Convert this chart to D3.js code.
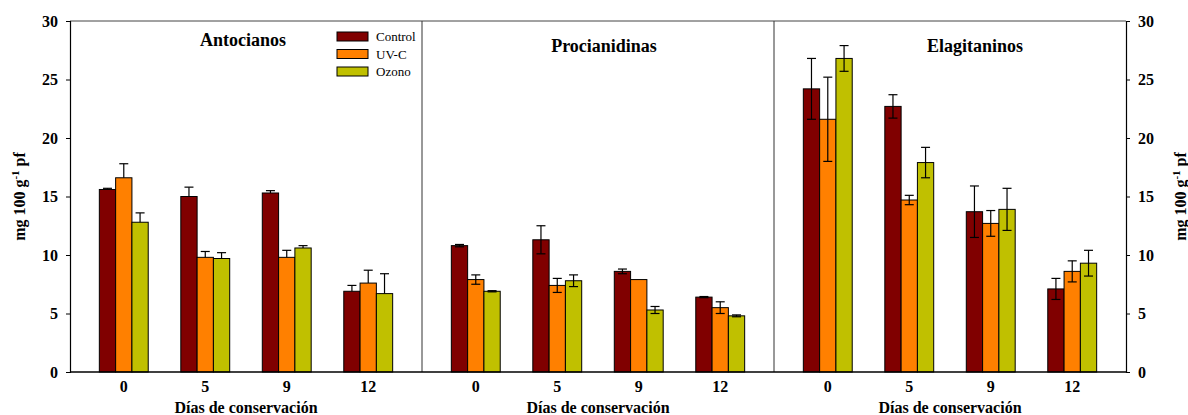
<!DOCTYPE html>
<html>
<head>
<meta charset="utf-8">
<script src="https://cdn.jsdelivr.net/npm/d3@7"></script>
<style>
  html, body { margin: 0; padding: 0; background: #fff; }
  svg { display: block; font-family: "Liberation Serif", "Times New Roman", serif; }
</style>
</head>
<body>
<svg id="chart" width="1188" height="415"></svg>
<script>
// Storage days and treatments
const days = ["0", "5", "9", "12"];
const treatments = ["Control", "UV-C", "Ozono"];
const panels = ["Antocianos", "Procianidinas", "Elagitaninos"];
const yTicks = [0, 5, 10, 15, 20, 25, 30];

// Mean values (mg 100 g-1 pf), one array per treatment, per compound
const antocianosControl = [15.6, 15.0, 15.3, 6.9];
const antocianosUVC     = [16.6, 9.8, 9.8, 7.6];
const antocianosOzono   = [12.8, 9.7, 10.6, 6.7];
const antocianosControlErr = [0.1, 0.8, 0.2, 0.5];
const antocianosUVCErr     = [1.2, 0.5, 0.6, 1.1];
const antocianosOzonoErr   = [0.8, 0.5, 0.2, 1.7];

const procianidinasControl = [10.8, 11.3, 8.6, 6.4];
const procianidinasUVC     = [7.9, 7.4, 7.9, 5.5];
const procianidinasOzono   = [6.9, 7.8, 5.3, 4.8];
const procianidinasControlErr = [0.1, 1.2, 0.2, 0.05];
const procianidinasUVCErr     = [0.4, 0.6, 0, 0.5];
const procianidinasOzonoErr   = [0.05, 0.5, 0.3, 0.08];

const elagitaninosControl = [24.2, 22.7, 13.7, 7.1];
const elagitaninosUVC     = [21.6, 14.7, 12.7, 8.6];
const elagitaninosOzono   = [26.8, 17.9, 13.9, 9.3];
const elagitaninosControlErr = [2.6, 1.0, 2.2, 0.9];
const elagitaninosUVCErr     = [3.6, 0.4, 1.1, 0.9];
const elagitaninosOzonoErr   = [1.1, 1.3, 1.8, 1.1];

const colors = ["#800000", "#FF8000", "#C0C000"];

const panelData = [
  { name: panels[0], oneSided: true,
    values: [antocianosControl, antocianosUVC, antocianosOzono],
    errors: [antocianosControlErr, antocianosUVCErr, antocianosOzonoErr] },
  { name: panels[1], oneSided: false,
    values: [procianidinasControl, procianidinasUVC, procianidinasOzono],
    errors: [procianidinasControlErr, procianidinasUVCErr, procianidinasOzonoErr] },
  { name: panels[2], oneSided: false,
    values: [elagitaninosControl, elagitaninosUVC, elagitaninosOzono],
    errors: [elagitaninosControlErr, elagitaninosUVCErr, elagitaninosOzonoErr] }
];

const svg = d3.select("#chart");
const plotLeft = 70, plotRight = 1126, plotTop = 21, plotBottom = 372;

const y = d3.scaleLinear().domain([0, 30]).range([plotBottom, plotTop]);
const panelScale = d3.scaleBand().domain(panels).range([plotLeft, plotRight]).padding(0);
const pw = panelScale.bandwidth();
const x0 = d3.scaleBand().domain(days).range([0, pw]).paddingInner(0.4).paddingOuter(0.36);
const x1 = d3.scaleBand().domain(treatments).range([0, x0.bandwidth()]).padding(0);

const titleX = [243, 604, 975];
const titleY = [46, 52, 52];
const capW = 9;

panelData.forEach((p, pi) => {
  const g = svg.append("g").attr("transform", `translate(${panelScale(p.name)},0)`);

  // bars
  treatments.forEach((t, ti) => {
    days.forEach((d, di) => {
      const v = p.values[ti][di];
      const e = p.errors[ti][di];
      const bx = x0(d) + x1(t);
      g.append("rect")
        .attr("x", bx).attr("y", y(v))
        .attr("width", x1.bandwidth()).attr("height", y(0) - y(v))
        .attr("fill", colors[ti]).attr("stroke", "#000").attr("stroke-width", 1);
      if (e > 0) {
        const cx = bx + x1.bandwidth() / 2;
        const lo = p.oneSided ? v : v - e;
        const hi = v + e;
        const eg = g.append("g").attr("stroke", "#000").attr("stroke-width", 1.2);
        eg.append("line").attr("x1", cx).attr("x2", cx).attr("y1", y(lo)).attr("y2", y(hi));
        eg.append("line").attr("x1", cx - capW / 2).attr("x2", cx + capW / 2).attr("y1", y(hi)).attr("y2", y(hi));
        if (!p.oneSided) {
          eg.append("line").attr("x1", cx - capW / 2).attr("x2", cx + capW / 2).attr("y1", y(lo)).attr("y2", y(lo));
        }
      }
    });
  });

  // x axis (day labels)
  const ax = g.append("g").attr("transform", `translate(0,${plotBottom})`)
    .call(d3.axisBottom(x0).tickSize(0).tickPadding(9));
  ax.select(".domain").remove();
  ax.selectAll("text").attr("font-size", 16).attr("font-weight", "bold")
    .attr("font-family", "Liberation Serif").attr("fill", "#000");

  g.append("text")
    .attr("x", pw / 2).attr("y", 413)
    .attr("text-anchor", "middle").attr("font-size", 16).attr("font-weight", "bold")
    .text("Días de conservación");

  svg.append("text")
    .attr("x", titleX[pi]).attr("y", titleY[pi])
    .attr("text-anchor", "middle").attr("font-size", 18).attr("font-weight", "bold")
    .text(p.name);
});

// frame: top line and panel dividers
svg.append("line").attr("x1", plotLeft).attr("x2", plotRight).attr("y1", plotTop).attr("y2", plotTop)
  .attr("stroke", "#444").attr("stroke-width", 1);
panels.slice(1).forEach(n => {
  const px = panelScale(n);
  svg.append("line").attr("x1", px).attr("x2", px).attr("y1", plotTop).attr("y2", plotBottom)
    .attr("stroke", "#333").attr("stroke-width", 1);
});
svg.append("line").attr("x1", plotLeft).attr("x2", plotRight).attr("y1", plotBottom).attr("y2", plotBottom)
  .attr("stroke", "#000").attr("stroke-width", 1.5);

// y axes
function styleAxis(sel) {
  sel.select(".domain").attr("stroke", "#000").attr("stroke-width", 1.2);
  sel.selectAll(".tick line").attr("stroke", "#000");
  sel.selectAll("text").attr("font-size", 16).attr("font-weight", "bold")
    .attr("font-family", "Liberation Serif").attr("fill", "#000");
}
svg.append("g").attr("transform", `translate(${plotLeft},0)`)
  .call(d3.axisLeft(y).tickValues(yTicks).tickSizeOuter(0).tickSize(4).tickPadding(8))
  .call(styleAxis);
svg.append("g").attr("transform", `translate(${plotRight},0)`)
  .call(d3.axisRight(y).tickValues(yTicks).tickSizeOuter(0).tickSize(4).tickPadding(8))
  .call(styleAxis);

// y axis titles
function yTitle(xPos) {
  const t = svg.append("text")
    .attr("transform", `translate(${xPos},${(plotTop + plotBottom) / 2}) rotate(-90)`)
    .attr("text-anchor", "middle").attr("font-size", 16).attr("font-weight", "bold");
  t.append("tspan").text("mg 100 g");
  t.append("tspan").attr("dy", -6).attr("font-size", 11).text("-1");
  t.append("tspan").attr("dy", 6).text(" pf");
}
yTitle(25);
yTitle(1186);

// legend
const lg = svg.append("g");
treatments.forEach((t, i) => {
  const ly = 32 + i * 17.5;
  lg.append("rect").attr("x", 337).attr("y", ly).attr("width", 31).attr("height", 9)
    .attr("fill", colors[i]).attr("stroke", "#000").attr("stroke-width", 1);
  lg.append("text").attr("x", 376).attr("y", ly + 9).attr("font-size", 13).text(t);
});
</script>
</body>
</html>
